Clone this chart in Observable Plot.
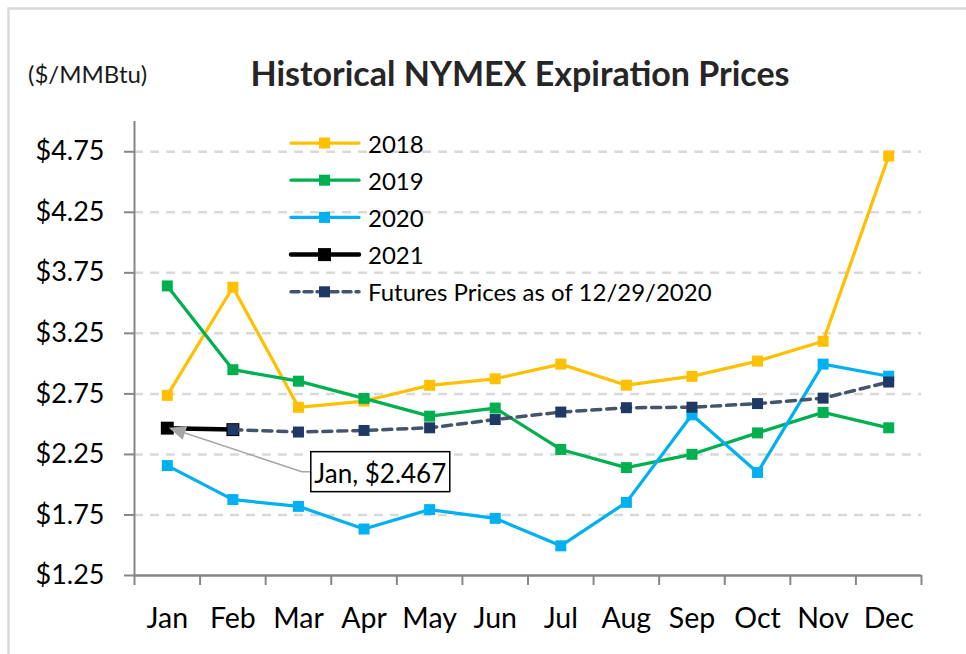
<!DOCTYPE html>
<html>
<head>
<meta charset="utf-8">
<script src="https://cdn.jsdelivr.net/npm/d3@7"></script>
<script src="https://cdn.jsdelivr.net/npm/@observablehq/plot@0.6"></script>
<style>
  html, body { margin: 0; padding: 0; background: #ffffff; }
  svg { display: block; }
</style>
</head>
<body>
<script>
const months = ["Jan", "Feb", "Mar", "Apr", "May", "Jun", "Jul", "Aug", "Sep", "Oct", "Nov", "Dec"];
const y2018 = [2.738, 3.631, 2.639, 2.691, 2.821, 2.875, 2.996, 2.822, 2.895, 3.021, 3.185, 4.715];
const y2019 = [3.642, 2.950, 2.855, 2.713, 2.566, 2.633, 2.291, 2.141, 2.251, 2.428, 2.597, 2.470];
const y2020 = [2.158, 1.877, 1.821, 1.634, 1.794, 1.722, 1.495, 1.854, 2.577, 2.101, 2.996, 2.896];
const y2021 = [2.467, 2.455, null, null, null, null, null, null, null, null, null, null];
const futures = [null, 2.455, 2.435, 2.448, 2.470, 2.538, 2.600, 2.636, 2.640, 2.670, 2.715, 2.848];
const yTicks = [1.25, 1.75, 2.25, 2.75, 3.25, 3.75, 4.25, 4.75];
const seriesNames = ["2018", "2019", "2020", "2021", "Futures Prices as of 12/29/2020"];
const titleText = "Historical NYMEX Expiration Prices";
const unitText = "($/MMBtu)";
const callout = {month: "Jan", value: 2.467, label: "Jan, $2.467"};

const colors = {
  "2018": "#FFC000",
  "2019": "#00B050",
  "2020": "#00B0F0",
  "2021": "#000000",
  futLine: "#44546A",
  futMark: "#1F3864"
};

const toRows = (vals) => months.map((m, i) => ({m, x: i + 0.5, v: vals[i]})).filter(d => d.v != null);
const r18 = toRows(y2018), r19 = toRows(y2019), r20 = toRows(y2020), r21 = toRows(y2021), rf = toRows(futures);

const sq = 6.2;   // square marker radius (≈11px side)
const sqBig = 7.3;

const plot = Plot.plot({
  width: 966,
  height: 654,
  marginLeft: 134,
  marginRight: 45,
  marginTop: 121,
  marginBottom: 79,
  style: {fontFamily: "Lato, 'Open Sans', sans-serif", background: "#ffffff", color: "#000"},
  x: {domain: [0, 12], axis: null},
  y: {domain: [1.25, 5.0], axis: null},
  marks: [
    Plot.ruleY(yTicks.slice(1), {stroke: "#d9d9d9", strokeWidth: 2.5, strokeDasharray: "9,7", strokeOpacity: 1}),
    Plot.axisY({ticks: yTicks, tickFormat: d => "$" + d.toFixed(2), tickSize: 10, tickPadding: 20, fontSize: 27, stroke: "#868686", strokeWidth: 2, fill: "#000", label: null}),
    Plot.axisX({ticks: d3.range(0, 13), tickFormat: () => "", tickSize: 10, stroke: "#868686", strokeWidth: 2, label: null}),
    Plot.axisX({ticks: d3.range(0, 12).map(i => i + 0.5), tickFormat: d => months[Math.floor(d)], tickSize: 0, tickPadding: 32, fontSize: 28.5, fill: "#000", label: null}),
    Plot.ruleX([0], {stroke: "#868686", strokeWidth: 2}),
    Plot.ruleY([1.25], {stroke: "#868686", strokeWidth: 2.5}),

    Plot.line(r18, {x: "x", y: "v", stroke: colors["2018"], strokeWidth: 3.25}),
    Plot.dot(r18, {x: "x", y: "v", symbol: "square", r: sq, fill: colors["2018"]}),
    Plot.line(r19, {x: "x", y: "v", stroke: colors["2019"], strokeWidth: 3.25}),
    Plot.dot(r19, {x: "x", y: "v", symbol: "square", r: sq, fill: colors["2019"]}),
    Plot.line(r20, {x: "x", y: "v", stroke: colors["2020"], strokeWidth: 3.25}),
    Plot.dot(r20, {x: "x", y: "v", symbol: "square", r: sq, fill: colors["2020"]}),
    Plot.line(r21, {x: "x", y: "v", stroke: colors["2021"], strokeWidth: 4.5}),
    Plot.dot(r21, {x: "x", y: "v", symbol: "square", r: sqBig, fill: colors["2021"]}),
    Plot.line(rf, {x: "x", y: "v", stroke: colors.futLine, strokeWidth: 3.5, strokeDasharray: "9,6", strokeLinecap: "round"}),
    Plot.dot(rf, {x: "x", y: "v", symbol: "square", r: sq, fill: colors.futMark})
  ]
});

document.body.appendChild(plot);
const svg = d3.select(plot);

// outer border
svg.insert("rect", ":first-child")
  .attr("x", 8.5).attr("y", 8.5).attr("width", 1000).attr("height", 1000)
  .attr("fill", "none").attr("stroke", "#d9d9d9").attr("stroke-width", 2.5);

// title + unit label
svg.append("text").text(titleText)
  .attr("x", 520).attr("y", 72).attr("text-anchor", "middle").attr("dominant-baseline", "central")
  .attr("font-family", "Lato, sans-serif").attr("font-weight", "bold").attr("font-size", 34).attr("fill", "#262626");
svg.append("text").text(unitText)
  .attr("x", 28).attr("y", 73).attr("text-anchor", "start").attr("dominant-baseline", "central")
  .attr("font-family", "Lato, sans-serif").attr("font-size", 24).attr("fill", "#1a1a1a");

// legend
const legendItems = [
  {name: seriesNames[0], line: colors["2018"], mark: colors["2018"], w: 3.25, r: 11, dash: null},
  {name: seriesNames[1], line: colors["2019"], mark: colors["2019"], w: 3.25, r: 11, dash: null},
  {name: seriesNames[2], line: colors["2020"], mark: colors["2020"], w: 3.25, r: 11, dash: null},
  {name: seriesNames[3], line: colors["2021"], mark: colors["2021"], w: 4.5, r: 13, dash: null},
  {name: seriesNames[4], line: colors.futLine, mark: colors.futMark, w: 3.5, r: 11, dash: "8,5"}
];
const lg = svg.append("g").attr("font-family", "Lato, sans-serif").attr("font-size", 24).attr("text-anchor", "start");
legendItems.forEach((it, k) => {
  const cy = 143 + k * 37.2;
  lg.append("line").attr("x1", 291).attr("x2", 359).attr("y1", cy).attr("y2", cy)
    .attr("stroke", it.line).attr("stroke-width", it.w).attr("stroke-linecap", "round")
    .attr("stroke-dasharray", it.dash);
  lg.append("rect").attr("x", 324.5 - it.r / 2).attr("y", cy - it.r / 2).attr("width", it.r).attr("height", it.r)
    .attr("fill", it.mark);
  lg.append("text").text(it.name).attr("x", 368).attr("y", cy).attr("text-anchor", "start")
    .attr("dominant-baseline", "central").attr("fill", "#000");
});

// callout
const sx = plot.scale("x"), sy = plot.scale("y");
const px = sx.apply(months.indexOf(callout.month) + 0.5);
const py = sy.apply(callout.value);
const bx = px + 144, by = py + 24, bw = 139, bh = 40;
const ex = bx - 9, ey = by + bh / 2;
const tipX = px + 2, tipY = py;
const ang = Math.atan2(ey - tipY, ex - tipX);
const hl = 17, hw = 7;
const baseX = tipX + hl * Math.cos(ang), baseY = tipY + hl * Math.sin(ang);
const g = svg.append("g");
g.append("polyline").attr("points", `${bx},${ey} ${ex},${ey} ${baseX},${baseY}`)
  .attr("fill", "none").attr("stroke", "#a6a6a6").attr("stroke-width", 1.5);
g.append("polygon").attr("points", [
  [tipX, tipY],
  [baseX + hw * Math.sin(ang), baseY - hw * Math.cos(ang)],
  [baseX - hw * Math.sin(ang), baseY + hw * Math.cos(ang)]
].map(p => p.join(",")).join(" ")).attr("fill", "#a6a6a6");
g.append("rect").attr("x", bx).attr("y", by).attr("width", bw).attr("height", bh)
  .attr("fill", "#fff").attr("stroke", "#000").attr("stroke-width", 1.5);
g.append("text").text(callout.label).attr("x", bx + bw / 2).attr("y", by + bh / 2 + 1)
  .attr("text-anchor", "middle").attr("dominant-baseline", "central")
  .attr("font-family", "Lato, sans-serif").attr("font-size", 26).attr("fill", "#000");
</script>
</body>
</html>
